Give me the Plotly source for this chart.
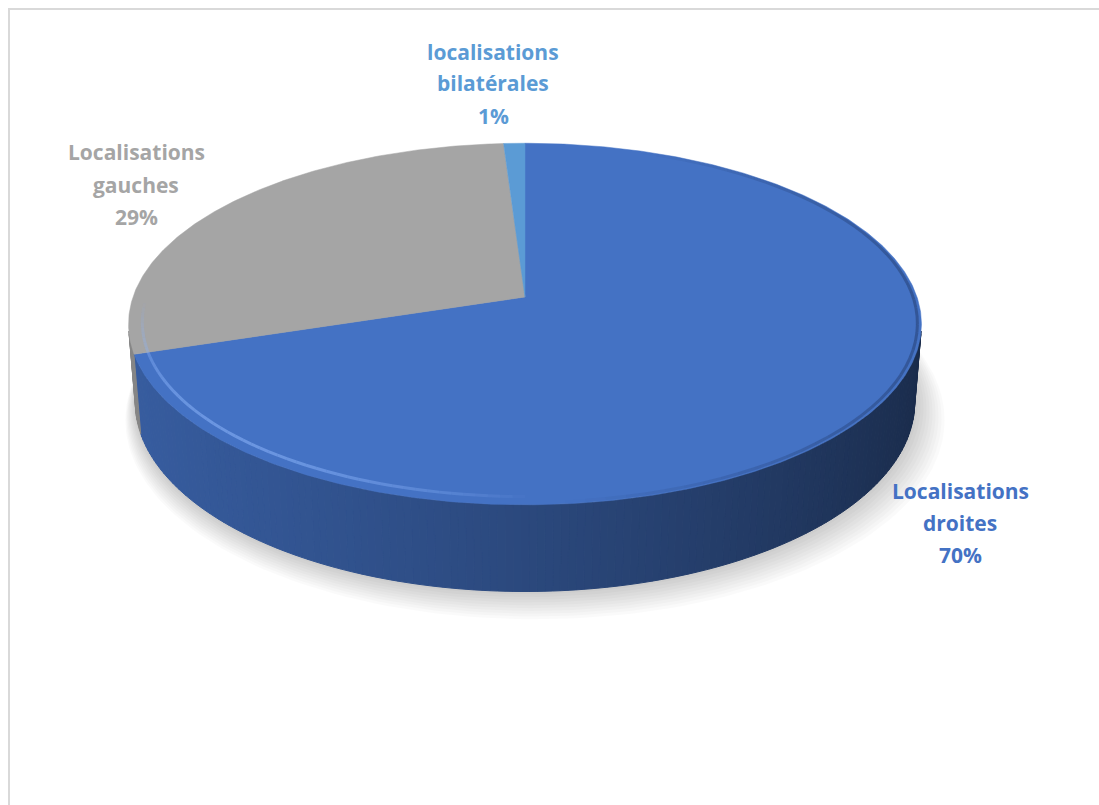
import numpy as np
import plotly.graph_objects as go

# --- data -------------------------------------------------------------
categories = ["Localisations droites", "Localisations gauches", "localisations bilatérales"]
label_lines = [["Localisations", "droites"], ["Localisations", "gauches"], ["localisations", "bilatérales"]]
values = [70, 29, 1]
slice_colors = ["#4472C4", "#A5A5A5", "#5B9BD5"]

# --- 3D pie geometry (pixel space) -----------------------------------
W, H = 1099, 805
CX, CY = 525.0, 297.0      # projected centre of the top face
SCALE = 392.0              # pixels per unit radius
TILT = np.radians(26.8)    # elevation of the view
DIST = 5.97                # perspective distance (in radii)
THICK = 0.225              # pie thickness (in radii)
sT, cT = np.sin(TILT), np.cos(TILT)


def project(theta_deg, r, z):
    th = np.radians(theta_deg)
    x = r * np.sin(th)
    y = r * np.cos(th)            # depth: positive = far side
    v = y * sT + z * cT
    w = y * cT - z * sT
    k = DIST / (DIST + w)
    return CX + x * k * SCALE, CY - v * k * SCALE


def hex_rgb(h):
    h = h.lstrip("#")
    return np.array([int(h[i:i + 2], 16) for i in (0, 2, 4)], dtype=float)


def shade(hexcol, f):
    c = np.clip(hex_rgb(hexcol) * f, 0, 255).astype(int)
    return f"rgb({c[0]},{c[1]},{c[2]})"


total = float(sum(values))
starts = np.concatenate([[0.0], np.cumsum(values)[:-1]]) / total * 360.0
ends = np.cumsum(values) / total * 360.0


def slice_at(theta):
    for i in range(len(values)):
        if starts[i] <= theta % 360 < ends[i]:
            return i
    return len(values) - 1


fig = go.Figure()

# soft shadow under the pie
for k in range(10, 0, -1):
    th = np.linspace(0, 360, 241)
    px, py = project(th, 1.0 + 0.005 * k, -THICK)
    fig.add_trace(go.Scatter(x=px + 1.0 * k, y=py + 1.5 * k, mode="lines", fill="toself",
                             fillcolor="rgba(0,0,0,0.02)", line=dict(width=0),
                             hoverinfo="skip", showlegend=False))

# visible outer wall
lim = np.degrees(np.arccos(-1.0 / (DIST * cT)))
edges = np.linspace(lim, 360 - lim, 160)
for a0, a1 in zip(edges[:-1], edges[1:]):
    mid = 0.5 * (a0 + a1)
    s = np.sin(np.radians(mid))          # +1 right, -1 left
    f = 0.64 - 0.22 * s - 0.04 * s * s
    col = shade(slice_colors[slice_at(mid)], f)
    tx0, ty0 = project(a0, 1.0, 0.0)
    tx1, ty1 = project(a1, 1.0, 0.0)
    bx0, by0 = project(a0, 1.0, -THICK)
    bx1, by1 = project(a1, 1.0, -THICK)
    fig.add_trace(go.Scatter(x=[tx0, tx1, bx1, bx0, tx0], y=[ty0, ty1, by1, by0, ty0],
                             mode="lines", fill="toself", fillcolor=col,
                             line=dict(color=col, width=1),
                             hoverinfo="skip", showlegend=False))

# top faces of the slices
for i, (a0, a1) in enumerate(zip(starts, ends)):
    th = np.linspace(a0, a1, max(3, int((a1 - a0) * 2)))
    ax, ay = project(th, 1.0, 0.0)
    ox, oy = project(0.0, 0.0, 0.0)
    fig.add_trace(go.Scatter(x=np.r_[ox, ax, ox], y=np.r_[oy, ay, oy], mode="lines",
                             fill="toself", fillcolor=slice_colors[i],
                             line=dict(color=slice_colors[i], width=0.5),
                             name=categories[i], hoverinfo="name", showlegend=False))

# bevel highlight along the front-left rim
hl = np.linspace(180, 268, 56)
for a0, a1 in zip(hl[:-1], hl[1:]):
    mid = 0.5 * (a0 + a1)
    op = 0.55 * np.clip(np.sin(np.radians((mid - 180) / 88 * 180)), 0, 1) ** 0.7
    seg = np.linspace(a0, a1, 3)
    lx, ly = project(seg, 0.966, 0.0)
    fig.add_trace(go.Scatter(x=lx, y=ly, mode="lines",
                             line=dict(color=f"rgba(140,180,250,{op:.3f})", width=3),
                             hoverinfo="skip", showlegend=False))

# darker rim on the right
dk = np.linspace(20, 175, 60)
for a0, a1 in zip(dk[:-1], dk[1:]):
    mid = 0.5 * (a0 + a1)
    op = 0.35 * np.sin(np.radians((mid - 20) / 155 * 180))
    seg = np.linspace(a0, a1, 3)
    lx, ly = project(seg, 0.99, 0.0)
    fig.add_trace(go.Scatter(x=lx, y=ly, mode="lines",
                             line=dict(color=f"rgba(20,35,70,{op:.3f})", width=3),
                             hoverinfo="skip", showlegend=False))

# --- data labels --------------------------------------------------------
label_pos = [(960, [491, 523, 555]), (136, [152, 185, 217]), (493, [52, 83, 116])]
annotations = []
for i in range(len(values)):
    pct = round(values[i] / total * 100)
    lines = label_lines[i] + [f"{pct}%"]
    x, ys = label_pos[i]
    for txt, y in zip(lines, ys):
        annotations.append(dict(x=x, y=y, xref="x", yref="y", text=txt, showarrow=False,
                                xanchor="center", yanchor="middle",
                                font=dict(family="Open Sans", size=21, weight="bold",
                                          color=slice_colors[i])))

fig.update_layout(
    width=W, height=H, autosize=False,
    margin=dict(l=0, r=0, t=0, b=0),
    paper_bgcolor="white", plot_bgcolor="white",
    xaxis=dict(range=[0, W], visible=False, fixedrange=True),
    yaxis=dict(range=[H, 0], visible=False, fixedrange=True),
    annotations=annotations,
    shapes=[dict(type="rect", xref="x", yref="y", x0=9, y0=9, x1=W + 20, y1=H + 20,
                 line=dict(color="#D9D9D9", width=2), fillcolor="rgba(0,0,0,0)", layer="below")],
)

fig.write_html("out.html")
